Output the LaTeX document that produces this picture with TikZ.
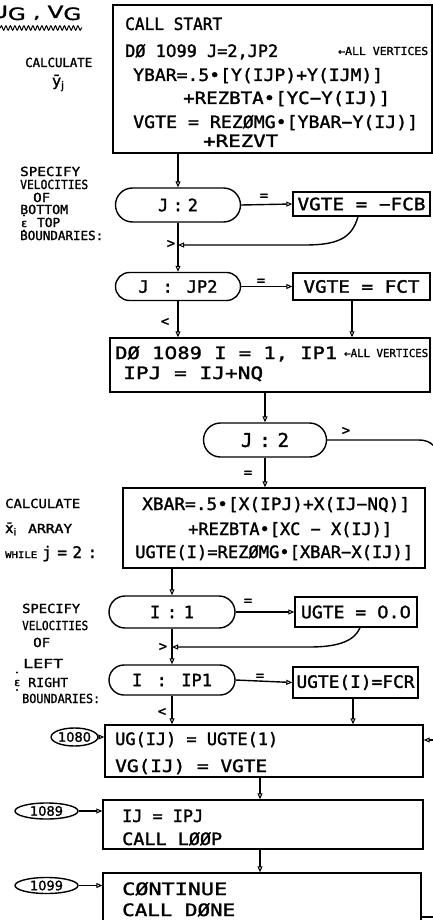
\documentclass[tikz,border=0pt]{standalone}
\usepackage{fontspec}
\setmainfont{DejaVu Sans Mono}[RawFeature={embolden=1.5}]
\newfontfamily\sansf{DejaVu Sans}[RawFeature={embolden=1.5}]
\usetikzlibrary{arrows.meta,shapes.misc,shapes.geometric,decorations.pathmorphing}
\newcommand{\fitw}[2]{\resizebox{#1}{\height}{#2}}
\newcommand{\zr}{{\sansf 0}}
\begin{document}
\begin{tikzpicture}[x=1pt,y=-1pt,
  every node/.style={inner sep=0pt},
  ln/.style={line width=1.4pt},
  arr/.style={ln,-{Triangle[open,length=6pt,width=5pt,line width=1pt]}},
  boxn/.style={draw,line width=1.4pt,rectangle},
  term/.style={draw,line width=1.4pt,rounded rectangle,font=\fontsize{17}{17}\selectfont},
  sbox/.style={draw,line width=1.4pt,rectangle,font=\fontsize{17}{17}\selectfont},
  oval/.style={draw,line width=1.4pt,ellipse,font=\sansf\fontsize{13}{13}\selectfont},
  boxt/.style={anchor=base west,font=\fontsize{17}{17}\selectfont},
  smallt/.style={anchor=base west,font=\fontsize{11}{11}\selectfont},
  lab/.style={anchor=base west,font=\fontsize{12.5}{12.5}\selectfont},
  mk/.style={font=\fontsize{14}{14}\selectfont}]
\fill[white] (0,0) rectangle (433,920);
\useasboundingbox (0,0) rectangle (433,920);

% ---------- left annotations ----------
\node[anchor=base west,font=\sansf\fontsize{17}{17}\selectfont] (ugvg) at (-9,18) {\fitw{90pt}{U\raisebox{-2pt}{G} , V\raisebox{-2pt}{G}}};
\coordinate (w1) at (0,28);
\coordinate (w2) at (82,28);
\draw[line width=1pt,decorate,decoration={snake,segment length=4.5pt,amplitude=2.2pt}] (w1) -- (w2);
\node[lab] (calc1) at (25,67) {\fitw{67pt}{CALCULATE}};
\node[anchor=base west,font=\sansf\fontsize{15}{15}\selectfont] (ybar) at (52,86) {ȳ\textsubscript{j}};

\node[lab] (sp1) at (20,176) {\fitw{60pt}{SPECIFY}};
\node[lab] (ve1) at (20,189) {\fitw{68pt}{VELOCITIES}};
\node[lab] (of1) at (33,202) {\fitw{17pt}{OF}};
\node[lab] (bo1) at (20,214) {\fitw{48pt}{BOTTOM}};
\node[lab] (tp1) at (37,227) {\fitw{23pt}{TOP}};
\node[anchor=base west,font=\sansf\fontsize{11}{11}\selectfont] (ep1) at (21,227) {ɛ};
\fill (24,215.5) circle (1.1pt);
\fill (24,230.5) circle (1.1pt);
\node[lab] (bd1) at (20,240) {\fitw{83pt}{BOUNDARIES:}};

\node[lab] (calc2) at (5,508) {\fitw{75pt}{CALCULATE}};
\node[anchor=base west,font=\sansf\fontsize{14}{14}\selectfont] (xb) at (5,533) {x̄\textsubscript{i}};
\node[lab] (arr2) at (28,533) {\fitw{44pt}{ARRAY}};
\node[anchor=base west,font=\fontsize{9}{9}\selectfont] (wh) at (5,558) {\fitw{32pt}{WHILE}};
\node[anchor=base west,font=\fontsize{16}{16}\selectfont] (jeq) at (42,558) {\makebox[55pt]{j\hfill=\hfill2\hfill:}};

\node[lab] (sp2) at (22,613) {\fitw{58pt}{SPECIFY}};
\node[lab] (ve2) at (22,630) {\fitw{66pt}{VELOCITIES}};
\node[lab] (of2) at (33,647) {\fitw{17pt}{OF}};
\node[lab] (le2) at (23,668) {\fitw{40pt}{LEFT}};
\node[anchor=base west,font=\sansf\fontsize{11}{11}\selectfont] (ep2) at (14,686) {ɛ};
\fill (17,672.5) circle (1.1pt);
\fill (17,690) circle (1.1pt);
\node[lab] (ri2) at (28,687) {\fitw{40pt}{RIGHT}};
\node[lab] (bd2) at (22,703) {\fitw{78pt}{BOUNDARIES:}};

% ---------- top box ----------
\node[boxn,minimum width=319pt,minimum height=148pt] (top) at (272.5,79) {};
\node[boxt] (t1) at (125,30) {\fitw{97pt}{CALL START}};
\node[boxt] (t2) at (125,57) {\fitw{153pt}{DØ 1\zr99 J=2,JP2}};
\node[smallt] (t2a) at (338,55) {\fitw{90pt}{←ALL VERTICES}};
\node[boxt] (t3) at (133,81) {\fitw{250pt}{YBAR=.5•[Y(IJP)+Y(IJM)]}};
\node[boxt] (t4) at (183,104) {\fitw{207pt}{+REZBTA•[YC−Y(IJ)]}};
\node[boxt] (t5) at (133,128) {\fitw{285pt}{VGTE = REZØMG•[YBAR−Y(IJ)]}};
\node[boxt] (t6) at (203,147) {\fitw{75pt}{+REZVT}};

% ---------- bottom/top boundary tests ----------
\node[term,minimum width=125pt,minimum height=34pt] (J2a) at (178,205) {\makebox[40pt]{J\hfill:\hfill2}\hspace{22pt}};
\node[sbox,minimum width=137pt,minimum height=24pt] (fcb) at (361.5,204) {\fitw{128pt}{VGTE = −FCB}};
\node[term,minimum width=125pt,minimum height=28pt] (JP2) at (178,286.5) {\makebox[79pt]{J\hfill:\hfill JP2}\hspace{21pt}};
\node[sbox,minimum width=137pt,minimum height=27pt] (fct) at (361.5,286.5) {\fitw{116pt}{VGTE = FCT}};

% ---------- DO 1089 box ----------
\node[boxn,minimum width=320pt,minimum height=54pt] (do1089) at (270,365) {};
\node[boxt] (d1) at (115,359) {\fitw{222pt}{DØ 1\zr89 I = 1, IP1}};
\node[smallt] (d1a) at (344,357) {\fitw{84pt}{←ALL VERTICES}};
\node[boxt] (d2) at (123,379) {\fitw{140pt}{IPJ = IJ+NQ}};

\node[term,minimum width=123pt,minimum height=34pt,font=\fontsize{19}{19}\selectfont] (J2b) at (265,440) {\makebox[48pt]{J\hfill:\hfill2}\hspace{18pt}};

% ---------- XBAR box ----------
\node[boxn,minimum width=302pt,minimum height=80pt] (xbar) at (274,528) {};
\node[boxt] (x1) at (142,510) {\fitw{268pt}{XBAR=.5•[X(IPJ)+X(IJ−NQ)]}};
\node[boxt] (x2) at (188,535) {\fitw{204pt}{+REZBTA•[XC − X(IJ)]}};
\node[boxt] (x3) at (135,558) {\fitw{278pt}{UGTE(I)=REZØMG•[XBAR−X(IJ)]}};

% ---------- left/right boundary tests ----------
\node[term,minimum width=126pt,minimum height=32pt] (I1) at (172,612) {\makebox[44pt]{I\hfill:\hfill1}\hspace{14pt}};
\node[sbox,minimum width=122pt,minimum height=30pt] (u00) at (356,612) {\fitw{110pt}{UGTE = \zr.\zr}};
\node[term,minimum width=126pt,minimum height=30pt] (IP1) at (172,680) {\makebox[80pt]{I\hfill:\hfill IP1}};
\node[sbox,minimum width=125pt,minimum height=31pt] (fcr) at (355.5,682.5) {\fitw{118pt}{UGTE(I)=FCR}};

% ---------- lower boxes ----------
\node[boxn,minimum width=318pt,minimum height=52pt] (b1080) at (264,751) {};
\node[boxt] (g1) at (115,745) {\fitw{163pt}{UG(IJ) = UGTE(1)}};
\node[boxt] (g2) at (115,772) {\fitw{152pt}{VG(IJ) = VGTE}};
\node[oval,minimum width=45pt,minimum height=18pt] (o1080) at (74.5,737) {1080};

\node[boxn,minimum width=320pt,minimum height=49pt] (b1089) at (263,824.5) {};
\node[boxt] (h1) at (122,822) {\fitw{81pt}{IJ = IPJ}};
\node[boxt] (h2) at (122,845) {\fitw{100pt}{CALL LØØP}};
\node[oval,minimum width=63pt,minimum height=16pt] (o1089) at (46.5,811) {1089};

\node[boxn,minimum width=318pt,minimum height=90pt] (b1099) at (262,918) {};
\node[boxt] (k1) at (122,895) {\fitw{105pt}{CØNTINUE}};
\node[boxt] (k2) at (122,916) {\fitw{113pt}{CALL DØNE}};
\node[oval,minimum width=63pt,minimum height=16pt] (o1099) at (46.5,885.5) {1099};

% ---------- connectors ----------
\coordinate (m1) at (178,245);
\coordinate (m2) at (172,647);
\coordinate (c1) at (434,446);
\coordinate (c2) at (434,740);
\coordinate (c3) at (434,917);

\draw[arr] (top.south -| J2a.north) -- (J2a.north);
\draw[arr] (J2a.east) -- (fcb.west);
\node[mk] (e1) at (264,197) {=};
\draw[arr] ([xshift=-3.5pt]fcb.south) .. controls (352,238) and (338,245) .. (305,245) -- (m1);
\draw[arr] (J2a.south) -- (JP2.north);
\node[mk] (g1l) at (171,244) {>};
\draw[arr] (JP2.east) -- (fct.west);
\node[mk] (e2) at (261,282) {=};
\draw[arr] (JP2.south) -- (JP2.south |- do1089.north);
\node[mk] (l1l) at (165,322) {<};
\draw[arr] ([xshift=-9.5pt]fct.south) -- ([xshift=-9.5pt]fct.south |- do1089.north);
\draw[arr] (do1089.south -| J2b.north) -- (J2b.north);
\draw[ln] (J2b.east) -- (418,440) .. controls (426,440) and (430,442) .. (c1);
\node[mk] (g2l) at (346,431) {>};
\draw[arr] (J2b.south) -- (J2b.south |- xbar.north);
\node[mk] (e3) at (248,474) {=};
\draw[arr] (xbar.south -| I1.north) -- (I1.north);
\draw[arr] (I1.east) -- (u00.west);
\node[mk] (e4) at (248,602) {=};
\draw[arr] ([xshift=4pt]u00.south) .. controls (355,640) and (340,647) .. (310,647) -- (m2);
\draw[arr] (I1.south) -- (IP1.north);
\node[mk] (g3l) at (163,647) {>};
\draw[arr] (IP1.east) -- (fcr.west);
\node[mk] (e5) at (260,677) {=};
\draw[arr] (IP1.south) -- (IP1.south |- b1080.north);
\node[mk] (l2l) at (162,712) {<};
\draw[arr] ([xshift=-2.5pt]fcr.south) -- ([xshift=-2.5pt]fcr.south |- b1080.north);
\draw[arr] (o1080.east) -- (b1080.west |- o1080.east);
\draw[arr] (c2) -- (b1080.east |- c2);
\draw[arr] ([xshift=-4pt]b1080.south) -- ([xshift=-4pt]b1080.south |- b1089.north);
\draw[arr] (o1089.east) -- (b1089.west |- o1089.east);
\draw[arr] ([xshift=-3pt]b1089.south) -- ([xshift=-3pt]b1089.south |- b1099.north);
\draw[arr] (o1099.east) -- (b1099.west |- o1099.east);
\draw[ln] (b1099.east |- c3) -- (c3);
\end{tikzpicture}
\end{document}
